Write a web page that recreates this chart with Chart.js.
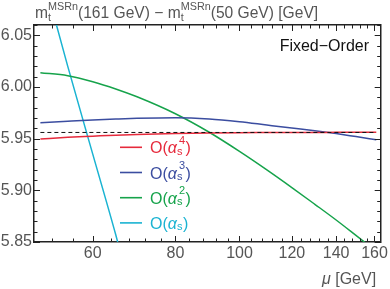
<!DOCTYPE html>
<html>
<head>
<meta charset="UTF-8">
<title>MSRn mass difference vs mu</title>
<script src="https://cdn.jsdelivr.net/npm/chart.js"></script>
<style>
  body { margin:0; background:#fff; }
  #wrap { width:390px; height:289px; }
</style>
</head>
<body>
<div id="wrap"><canvas id="c" width="390" height="289"></canvas></div>
<script>
// renormalization scale mu [GeV] (log axis)
const mu = [50, 55, 60, 65, 70, 80, 90, 100, 110, 120, 130, 140, 150, 161];
const order4 = [5.9496, 5.9513, 5.9524, 5.9534, 5.9541, 5.9550, 5.9555, 5.9558, 5.9559, 5.9560, 5.9560, 5.9561, 5.9561, 5.9561];
const order3 = [5.9655, 5.9669, 5.9681, 5.9690, 5.9697, 5.9703, 5.9691, 5.9664, 5.9632, 5.9603, 5.9577, 5.9549, 5.9520, 5.9490];
const order2 = [6.0138, 6.0109, 6.0051, 5.9981, 5.9905, 5.9741, 5.9562, 5.9377, 5.9198, 5.9027, 5.8865, 5.8713, 5.8564, 5.8410];
const order1 = [6.117, 6.020, 5.935, 5.857, 5.779, null, null, null, null, null, null, null, null, null];
const refMu = [50, 161];
const refVal = [5.956, 5.956];

const legendSup = ['4', '3', '2', ''];
const colors = ['#e62a3c', '#3b4da0', '#16a34b', '#1ab3d2'];

const xMajor = [60, 80, 100, 120, 140, 160];
const xMinor = [52, 56, 64, 68, 72, 76, 84, 88, 92, 96, 104, 108, 112, 116, 124, 128, 132, 136, 144, 148, 152, 156];
const yMajor = [5.85, 5.90, 5.95, 6.00, 6.05];
const yMinor = [5.86, 5.87, 5.88, 5.89, 5.91, 5.92, 5.93, 5.94, 5.96, 5.97, 5.98, 5.99, 6.01, 6.02, 6.03, 6.04, 6.06];

const FONT = '"Liberation Sans", Arial, sans-serif';
const GREY = '#555555';
const FRAME = '#222222';

const pts = (xs, ys) => xs.map((x, i) => ({ x: x, y: ys[i] }));
const series = [order4, order3, order2, order1];

function rich(ctx, x, y, items, color) {
  ctx.fillStyle = color;
  ctx.textAlign = 'left';
  ctx.textBaseline = 'alphabetic';
  items.forEach(it => {
    if (it.t === undefined) {
      ctx.font = it.size + 'px ' + FONT;
      let w = 0;
      if (it.sup) {
        ctx.fillText(it.sup, x + (it.supDx || 0), y - it.up);
        w = Math.max(w, ctx.measureText(it.sup).width + (it.supDx || 0));
      }
      if (it.sub) {
        ctx.fillText(it.sub, x, y + it.down);
        w = Math.max(w, ctx.measureText(it.sub).width);
      }
      x += w + (it.after || 0);
    } else {
      ctx.font = (it.italic ? 'italic ' : '') + it.size + 'px ' + FONT;
      ctx.fillText(it.t, x, y);
      x += ctx.measureText(it.t).width;
    }
  });
  return x;
}

const decor = {
  id: 'decor',
  afterDraw(chart) {
    const ctx = chart.ctx;
    const a = chart.chartArea;
    const xs = chart.scales.x, ys = chart.scales.y;
    ctx.save();
    // frame ticks, pointing inward on all four sides
    ctx.strokeStyle = FRAME;
    ctx.lineWidth = 1;
    ctx.beginPath();
    const xt = (v, len) => {
      const p = Math.round(xs.getPixelForValue(v)) + 0.5;
      ctx.moveTo(p, a.bottom); ctx.lineTo(p, a.bottom - len);
      ctx.moveTo(p, a.top); ctx.lineTo(p, a.top + len);
    };
    const yt = (v, len) => {
      const p = Math.round(ys.getPixelForValue(v)) + 0.5;
      ctx.moveTo(a.left, p); ctx.lineTo(a.left + len, p);
      ctx.moveTo(a.right, p); ctx.lineTo(a.right - len, p);
    };
    xMajor.forEach(v => xt(v, 6));
    xMinor.forEach(v => xt(v, 3.5));
    yMajor.forEach(v => yt(v, 6));
    yMinor.forEach(v => yt(v, 3.5));
    ctx.stroke();

    // title
    rich(ctx, 35, 17.5, [
      { t: 'm', size: 15.6 },
      { sup: 'MSRn', sub: 't', size: 10.8, up: 7.5, down: 3.5 },
      { t: '(161 GeV) \u2212 m', size: 15.6 },
      { sup: 'MSRn', sub: 't', size: 10.8, up: 7.5, down: 3.5 },
      { t: '(50 GeV) [GeV]', size: 15.6 }
    ], GREY);

    // label inside the frame
    ctx.font = '16px ' + FONT;
    ctx.fillStyle = '#111';
    ctx.textAlign = 'right';
    ctx.fillText('Fixed\u2212Order', 369, 50.5);

    // x axis title
    rich(ctx, 322, 283.5, [
      { t: '\u03bc', size: 16, italic: true },
      { t: ' [GeV]', size: 16 }
    ], GREY);

    // legend
    legendSup.forEach((s, i) => {
      const y = 147.3 + 25.2 * i;
      const ds = chart.data.datasets[i + 1];
      ctx.strokeStyle = ds.borderColor;
      ctx.lineWidth = 1.6;
      ctx.beginPath();
      ctx.moveTo(120, y); ctx.lineTo(142, y);
      ctx.stroke();
      rich(ctx, 150, y + 6, [
        { t: 'O(', size: 16 },
        { t: '\u03b1', size: 16, italic: true },
        { sup: s, sub: 's', size: 11, up: 9.5, down: 1.5, supDx: 2, after: 0.5 },
        { t: ')', size: 16 }
      ], ds.borderColor);
    });
    ctx.restore();
  }
};

const lineDs = (label, data, color) => ({
  label: label,
  data: pts(mu, data),
  borderColor: color,
  borderWidth: 1.5,
  pointRadius: 0,
  fill: false,
  spanGaps: false,
  cubicInterpolationMode: 'monotone'
});

new Chart(document.getElementById('c'), {
  type: 'line',
  data: {
    datasets: [
      {
        label: 'reference',
        data: pts(refMu, refVal),
        borderColor: '#111',
        borderWidth: 1,
        borderDash: [4, 3],
        pointRadius: 0,
        fill: false
      },
      lineDs('O(as^4)', series[0], colors[0]),
      lineDs('O(as^3)', series[1], colors[1]),
      lineDs('O(as^2)', series[2], colors[2]),
      lineDs('O(as)', series[3], colors[3])
    ]
  },
  options: {
    responsive: false,
    animation: false,
    events: [],
    layout: { padding: { top: 25, right: 7, left: 0, bottom: 0 } },
    plugins: { legend: { display: false }, tooltip: { enabled: false }, title: { display: false } },
    scales: {
      x: {
        type: 'logarithmic',
        position: 'bottom',
        min: 48.9,
        max: 163.5,
        afterBuildTicks: s => { s.ticks = xMajor.map(v => ({ value: v })); },
        afterFit: s => { s.height = 47; },
        ticks: {
          callback: v => String(v),
          font: { size: 16, family: FONT },
          color: GREY,
          padding: 2,
          maxRotation: 0,
          autoSkip: false
        },
        grid: { display: true, drawOnChartArea: false, drawTicks: false },
        border: { display: true, color: FRAME, width: 1.5 }
      },
      x2: {
        type: 'logarithmic',
        position: 'top',
        min: 48.9,
        max: 163.5,
        afterFit: s => { s.height = 0; },
        ticks: { display: false },
        grid: { display: true, drawOnChartArea: false, drawTicks: false },
        border: { display: true, color: FRAME, width: 1.5 }
      },
      y: {
        type: 'linear',
        position: 'left',
        min: 5.85,
        max: 6.06,
        afterBuildTicks: s => { s.ticks = yMajor.map(v => ({ value: v })); },
        afterFit: s => { s.width = 34; },
        ticks: {
          callback: v => v.toFixed(2),
          font: { size: 16, family: FONT },
          color: GREY,
          padding: 2
        },
        grid: { display: true, drawOnChartArea: false, drawTicks: false },
        border: { display: true, color: FRAME, width: 1.5 }
      },
      y2: {
        type: 'linear',
        position: 'right',
        min: 5.85,
        max: 6.06,
        afterFit: s => { s.width = 0; },
        ticks: { display: false },
        grid: { display: true, drawOnChartArea: false, drawTicks: false },
        border: { display: true, color: FRAME, width: 1.5 }
      }
    }
  },
  plugins: [decor]
});
</script>
</body>
</html>
